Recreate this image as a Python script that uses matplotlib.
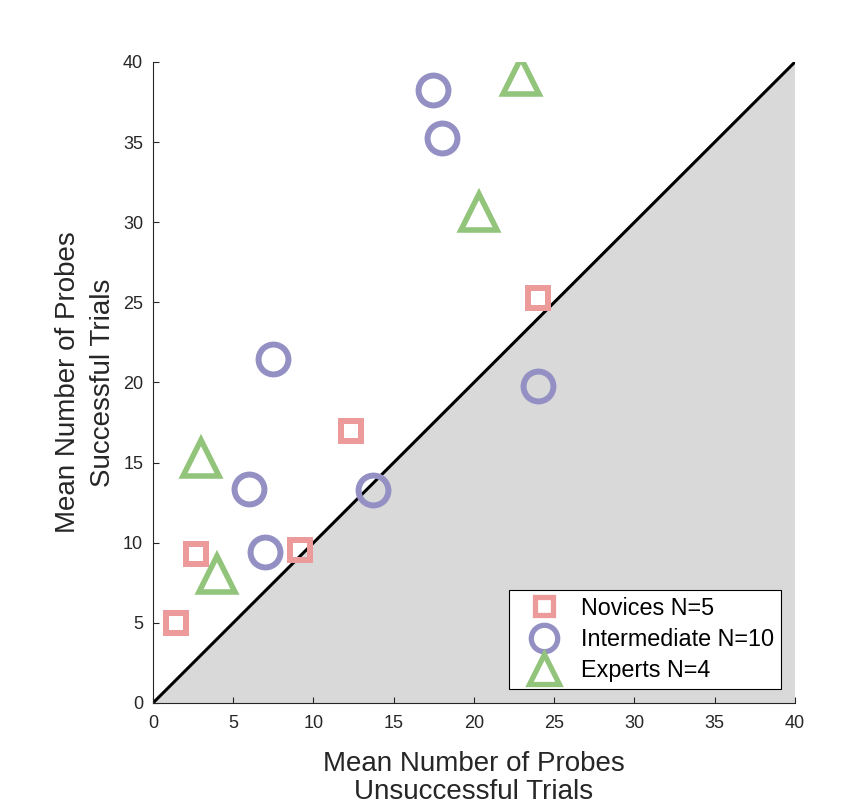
import matplotlib
matplotlib.use("Agg")
import matplotlib.pyplot as plt

plt.rcParams["font.family"] = ["Liberation Sans", "DejaVu Sans"]

# data
nov_x = [1.45, 2.70, 9.19, 12.35, 23.99]
nov_y = [5.02, 9.28, 9.53, 17.00, 25.27]

int_x = [17.46, 17.98, 7.48, 23.99, 5.96, 13.70, 6.97]
int_y = [38.26, 35.27, 21.46, 19.78, 13.38, 13.27, 9.43]

exp_x = [22.96, 20.30, 2.97, 3.97]
exp_y = [39.15, 30.65, 15.30, 8.03]

labels = ["Novices N=5", "Intermediate N=10", "Experts N=4"]
lim = [0, 40]
ticks = [0, 5, 10, 15, 20, 25, 30, 35, 40]

c_nov = "#EC9A9A"
c_int = "#9490C4"
c_exp = "#92C57B"
axcol = "#262626"

fig = plt.figure(figsize=(8.56, 8.10), dpi=100)
ax = fig.add_axes([0.1787, 0.1321, 0.75, 0.7914])

ax.fill([lim[0], lim[1], lim[1]], [lim[0], lim[0], lim[1]], color="#D9D9D9", lw=0, zorder=1)
ax.plot(lim, lim, color="black", lw=2.2, zorder=2)

ax.plot(nov_x, nov_y, "s", ms=15, mew=4.3, mfc="none", mec=c_nov, ls="none", label=labels[0], zorder=3)
ax.plot(int_x, int_y, "o", ms=21.5, mew=4.3, mfc="none", mec=c_int, ls="none", label=labels[1], zorder=3)
ax.plot(exp_x, exp_y, "^", ms=26, mew=4.0, mfc="none", mec=c_exp, ls="none", label=labels[2], zorder=3)

ax.set_xlim(lim)
ax.set_ylim(lim)
ax.set_xticks(ticks)
ax.set_yticks(ticks)
ax.tick_params(direction="in", length=4, width=0.8, colors=axcol, labelsize=13)
ax.tick_params(axis="x", pad=9)
ax.tick_params(axis="y", pad=7)
for s in ["top", "right"]:
    ax.spines[s].set_visible(False)
for s in ["left", "bottom"]:
    ax.spines[s].set_color(axcol)
    ax.spines[s].set_linewidth(0.8)

ax.set_xlabel("Mean Number of Probes\nUnsuccessful Trials", fontsize=20, color=axcol, linespacing=1.1, labelpad=13)
ax.set_ylabel("Mean Number of Probes\nSuccessful Trials", fontsize=20, color=axcol, linespacing=1.45, labelpad=5)

leg = ax.legend(loc="lower right", fontsize=16.8, frameon=True, fancybox=False,
                edgecolor="black", framealpha=1, borderaxespad=0.6,
                handletextpad=0.4, labelspacing=0.35, borderpad=0.3, handlelength=2.4)
leg.get_frame().set_linewidth(0.8)
for h, ms in zip(leg.legend_handles, [13, 19, 22]):
    h.set_markersize(ms)
    h.set_markeredgewidth(3.8)

fig.savefig("out.png", dpi=100)
